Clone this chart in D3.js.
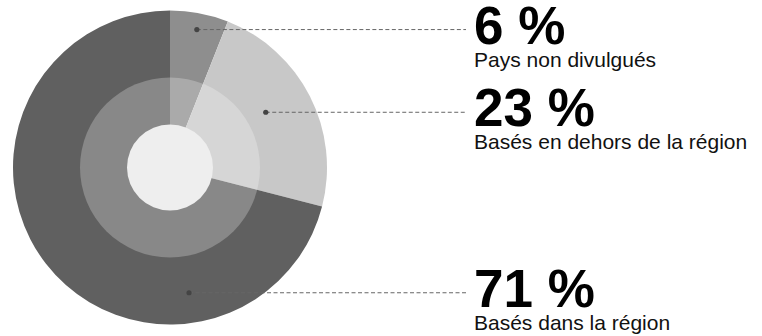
<!DOCTYPE html>
<html><head><meta charset="utf-8">
<script src="https://cdn.jsdelivr.net/npm/d3@7"></script>
<style>
html,body{margin:0;padding:0;background:#fff;}
svg{display:block;font-family:"Liberation Sans",Arial,Helvetica,sans-serif;}
</style></head>
<body><svg id="c" width="762" height="336"></svg>
<script>
// data
const categories = ["Pays non divulgués", "Basés en dehors de la région", "Basés dans la région"];
const values = [6, 23, 71];
const valueLabels = ["6 %", "23 %", "71 %"];
const colors = ["#8e8e8e", "#c8c8c8", "#606060"];
// layout of leader anchors (fraction along slice angle, fraction of radius)
const anchorAngleFrac = [0.51, 0.464, 0.262];
const anchorRadiusFrac = [0.895, 0.704, 0.807];

const W = 762, H = 336;
const cx = 170, cy = 167.5, R = 157, Rmid = 90, Rin = 43;
const svg = d3.select("#c");
const g = svg.append("g").attr("transform", `translate(${cx},${cy})`);

const pie = d3.pie().sort(null).value(d => d)(values);
const arc = d3.arc().innerRadius(0).outerRadius(R);
g.selectAll("path.slice").data(pie).join("path")
  .attr("class","slice").attr("d", arc).attr("fill", (d,i) => colors[i]);

// inner ring lighten overlay
g.append("circle").attr("r", Rmid).attr("fill", "#fff").attr("fill-opacity", 0.25);
g.append("circle").attr("r", Rin).attr("fill", "#eeeeee");

const lineEndX = 466, textX = 474;
pie.forEach((d, i) => {
  const a = d.startAngle + (d.endAngle - d.startAngle) * anchorAngleFrac[i];
  const [px, py] = d3.pointRadial(a, R * anchorRadiusFrac[i]);
  const x = cx + px, y = cy + py;
  svg.append("line").attr("x1", x).attr("x2", lineEndX).attr("y1", y).attr("y2", y)
    .attr("stroke", "#666").attr("stroke-width", 1).attr("stroke-dasharray", "4,2.5");
  svg.append("circle").attr("cx", x).attr("cy", y).attr("r", 2.6).attr("fill", "#444");
  svg.append("text").attr("x", textX).attr("y", y + 14)
    .attr("font-size", 53).attr("font-weight", "bold").attr("fill", "#000")
    .text(valueLabels[i]);
  svg.append("text").attr("x", textX).attr("y", y + 37)
    .attr("font-size", 21).attr("fill", "#111")
    .text(categories[i]);
});
</script></body></html>
